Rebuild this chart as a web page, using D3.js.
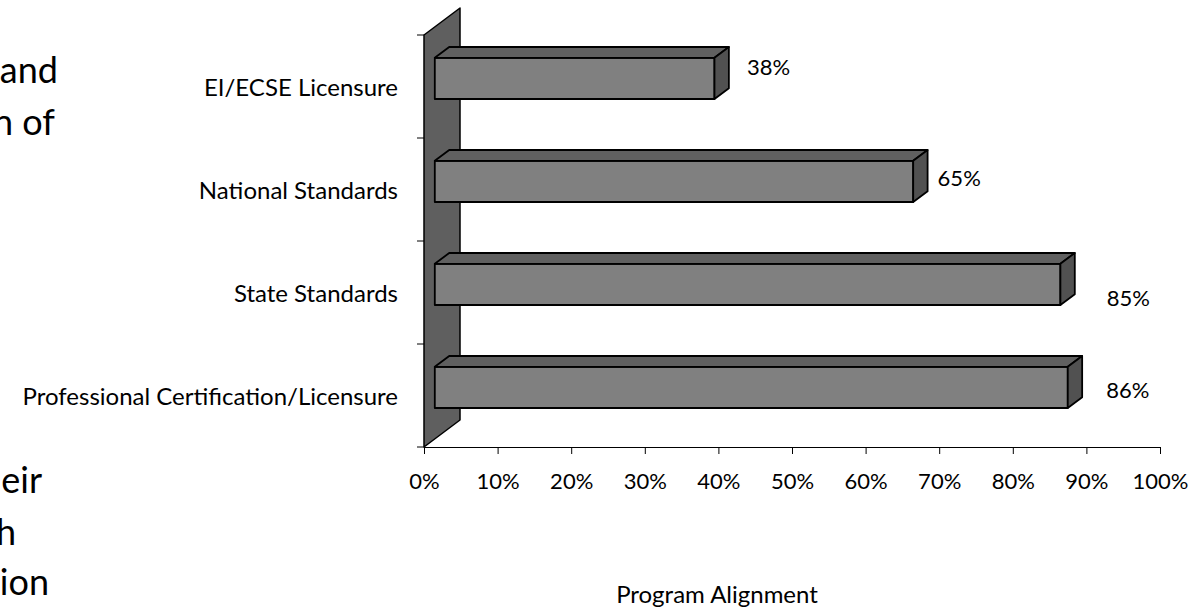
<!DOCTYPE html>
<html>
<head>
<meta charset="utf-8">
<script src="https://cdn.jsdelivr.net/npm/d3@7"></script>
<style>
  html, body { margin: 0; padding: 0; background: #fff; }
  svg { display: block; }
  text { font-family: Lato, "Open Sans", sans-serif; fill: #000; }
</style>
</head>
<body>
<svg id="chart" width="1204" height="607"></svg>
<script>
// ---- data ----
const categories = [
  "EI/ECSE Licensure",
  "National Standards",
  "State Standards",
  "Professional Certification/Licensure"
];
const values = [0.38, 0.65, 0.85, 0.86];
const tickValues = [0, 0.1, 0.2, 0.3, 0.4, 0.5, 0.6, 0.7, 0.8, 0.9, 1.0];
const axisTitle = "Program Alignment";
// fragments of the slide body text that sit beside the chart
const slideLines = ["and", "n of", "eir", "h", "ion"];

// ---- layout ----
const plot = { left: 424, right: 1160, top: 35, bottom: 447 };
const depth = { dx: 36, dy: -27 };          // 3-D extrusion of the wall
const barFront = 0.3, barBack = 0.7;        // bar slab inside the depth
const labelNudge = [[54, -20], [46, -12], [68, 5], [60, -6]];
const slideLinePos = [[58, 83], [55, 135], [42, 493], [16, 545], [49, 595]];
const wordSize = "24px", numberSize = "22px";

const colors = {
  wall: "#5f5f5f",
  front: "#808080",
  top: "#606060",
  side: "#515151",
  stroke: "#000"
};

const svg = d3.select("#chart");

const x = d3.scaleLinear().domain([0, 1]).range([plot.left, plot.right]);
const y = d3.scaleBand()
  .domain(categories)
  .range([plot.top, plot.bottom])
  .paddingInner(0.6)
  .paddingOuter(0.3);

const line = d3.line();
const poly = pts => line(pts) + "Z";

// side wall
const x0 = x(0);
svg.append("path")
  .attr("d", poly([
    [x0, plot.top],
    [x0 + depth.dx, plot.top + depth.dy],
    [x0 + depth.dx, plot.bottom + depth.dy],
    [x0, plot.bottom]
  ]))
  .attr("fill", colors.wall)
  .attr("stroke", colors.stroke)
  .attr("stroke-width", 1.5)
  .attr("stroke-linejoin", "round");

// category axis ticks at band boundaries
const boundaries = categories.map(c => y(c) - y.step() * y.paddingInner() / 2)
  .concat([plot.bottom]);
svg.append("g").selectAll("line")
  .data(boundaries)
  .join("line")
  .attr("x1", x0 - 7).attr("x2", x0)
  .attr("y1", d => d).attr("y2", d => d)
  .attr("stroke", "#000").attr("stroke-width", 1);

// value axis
const xAxis = svg.append("g")
  .attr("transform", `translate(0,${plot.bottom})`)
  .call(d3.axisBottom(x)
    .tickValues(tickValues)
    .tickFormat(d3.format(".0%"))
    .tickSize(7)
    .tickSizeOuter(0)
    .tickPadding(19));
xAxis.select(".domain").attr("stroke", "#000").attr("stroke-width", 1);
xAxis.selectAll(".tick line").attr("stroke", "#000");
xAxis.selectAll(".tick text")
  .style("font-family", "Lato, 'Open Sans', sans-serif")
  .style("font-size", numberSize)
  .attr("fill", "#000");

// 3-D bars
const ox = depth.dx * barFront, oy = depth.dy * barFront;
const bx = depth.dx * (barBack - barFront), by = depth.dy * (barBack - barFront);
const bw = y.bandwidth();

const bars = svg.append("g").selectAll("g")
  .data(categories.map((c, i) => ({ c, v: values[i], i })))
  .join("g");

bars.each(function (d) {
  const g = d3.select(this);
  const xa = x(0) + ox, xb = x(d.v) + ox;
  const ya = y(d.c) + oy, yb = ya + bw;
  g.append("path")
    .attr("d", poly([[xa, ya], [xb, ya], [xb, yb], [xa, yb]]))
    .attr("fill", colors.front);
  g.append("path")
    .attr("d", poly([[xa, ya], [xa + bx, ya + by], [xb + bx, ya + by], [xb, ya]]))
    .attr("fill", colors.top);
  g.append("path")
    .attr("d", poly([[xb, ya], [xb + bx, ya + by], [xb + bx, yb + by], [xb, yb]]))
    .attr("fill", colors.side);
  g.selectAll("path")
    .attr("stroke", colors.stroke)
    .attr("stroke-width", 1.8)
    .attr("stroke-linejoin", "round");
});

// value labels
svg.append("g").selectAll("text")
  .data(categories.map((c, i) => ({ c, v: values[i], i })))
  .join("text")
  .attr("x", d => x(d.v) + ox + labelNudge[d.i][0])
  .attr("y", d => y(d.c) + bw / 2 + labelNudge[d.i][1])
  .attr("text-anchor", "middle")
  .attr("dominant-baseline", "central")
  .style("font-size", numberSize)
  .text(d => d3.format(".0%")(d.v));

// category labels
svg.append("g").selectAll("text")
  .data(categories)
  .join("text")
  .attr("x", 398)
  .attr("y", d => y(d) + bw / 2)
  .attr("text-anchor", "end")
  .attr("dominant-baseline", "central")
  .style("font-size", wordSize)
  .text(d => d);

// axis title
svg.append("text")
  .attr("x", 717)
  .attr("y", 593)
  .attr("text-anchor", "middle")
  .attr("dominant-baseline", "central")
  .style("font-size", wordSize)
  .text(axisTitle);

// slide body text fragments
svg.append("g").selectAll("text")
  .data(slideLines)
  .join("text")
  .attr("x", (d, i) => slideLinePos[i][0])
  .attr("y", (d, i) => slideLinePos[i][1])
  .attr("text-anchor", "end")
  .style("font-size", "36px")
  .text(d => d);
</script>
</body>
</html>
